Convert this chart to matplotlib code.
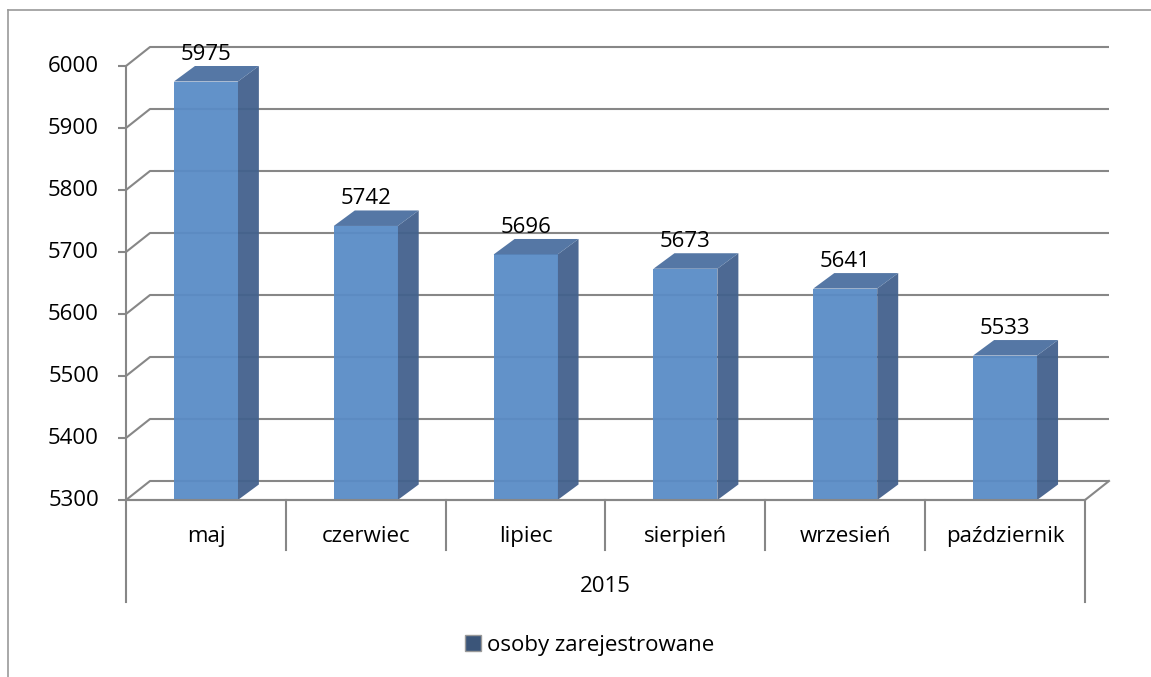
import matplotlib.pyplot as plt
from matplotlib.patches import Polygon, Patch
from matplotlib.lines import Line2D

months = ['maj', 'czerwiec', 'lipiec', 'sierpień', 'wrzesień', 'październik']
values = [5975, 5742, 5696, 5673, 5641, 5533]
year_label = '2015'
series_name = 'osoby zarejestrowane'
y_ticks = [5300, 5400, 5500, 5600, 5700, 5800, 5900, 6000]

plt.rcParams['font.family'] = ['Open Sans', 'DejaVu Sans']
FS = 16
GRID = '#878787'
FRONT = '#5a8cc6'
TOP = '#4c70a0'
SIDE = '#43618d'
LEGEND_C = '#3b5579'

W, H = 1151, 677
fig = plt.figure(figsize=(W / 100, H / 100), dpi=100)
ax = fig.add_axes([0, 0, 1, 1])
ax.axis('off')

# front plane of the plot area, in pixels (rows counted from the top)
X0_PX, X1_PX = 126, 1085
Y0_PX, Y1_PX = 500, 66
ymin, ymax = y_ticks[0], y_ticks[-1]
n = len(months)
px_x = (X1_PX - X0_PX) / n
px_y = (Y0_PX - Y1_PX) / (ymax - ymin)
ax.set_xlim(-X0_PX / px_x, (W - X0_PX) / px_x)
ax.set_ylim(ymin - (H - Y0_PX) / px_y, ymin + Y0_PX / px_y)

# depth offsets (walls and bars)
wdx, wdy = 24 / px_x, 19 / px_y
bdx, bdy = 21 / px_x, 15.5 / px_y
lw = 1.5


def px2pt(p):
    return p * 72 / 100


# back wall gridlines + left wall diagonals + ticks
for t in y_ticks:
    ax.plot([-8 / px_x, 0, wdx, n + wdx], [t, t, t + wdy, t + wdy],
            color=GRID, lw=lw, solid_capstyle='butt', zorder=1)
    ax.annotate(str(t), (0, t), xytext=(px2pt(-27), 0), textcoords='offset points',
                ha='right', va='center', fontsize=FS)

# floor
ax.plot([0, n, n + wdx], [ymin, ymin, ymin + wdy], color=GRID, lw=lw, zorder=1)

# bars
for i, v in enumerate(values):
    c = i + 0.5
    l, r = c - 0.2, c + 0.2
    front = [(l, ymin), (r, ymin), (r, v), (l, v)]
    side = [(r, ymin), (r + bdx, ymin + bdy), (r + bdx, v + bdy), (r, v)]
    top = [(l, v), (r, v), (r + bdx, v + bdy), (l + bdx, v + bdy)]
    ax.add_patch(Polygon(side, closed=True, facecolor=SIDE, edgecolor='none', alpha=0.95, zorder=2))
    ax.add_patch(Polygon(front, closed=True, facecolor=FRONT, edgecolor='none', alpha=0.95, zorder=2))
    ax.add_patch(Polygon(top, closed=True, facecolor=TOP, edgecolor='none', alpha=0.95, zorder=2))
    ax.annotate(str(v), (c, v + bdy), xytext=(0, 1), textcoords='offset points',
                ha='center', va='bottom', fontsize=FS, zorder=4)
    ax.annotate(months[i], (c, ymin), xytext=(0, px2pt(-42)), textcoords='offset points',
                ha='center', va='baseline', fontsize=FS)

# front value axis and category separators
ax.plot([0, 0], [ymin - 102 / px_y, ymax], color=GRID, lw=lw, zorder=3)
for i in range(1, n + 1):
    bottom = ymin - (102 if i == n else 50) / px_y
    ax.plot([i, i], [ymin, bottom], color=GRID, lw=lw, zorder=3)
ax.plot([0, n], [ymin, ymin], color=GRID, lw=lw, zorder=3)

ax.annotate(year_label, (n / 2, ymin), xytext=(0, px2pt(-92)), textcoords='offset points',
            ha='center', va='baseline', fontsize=FS)

# legend
leg = fig.legend(handles=[Patch(facecolor=LEGEND_C, edgecolor='#999999', label=series_name)],
                 loc='center', bbox_to_anchor=(590 / W, 1 - 645 / H), frameon=False,
                 fontsize=FS, handlelength=0.7, handleheight=0.7, handletextpad=0.3)

# chart border
fig.add_artist(Line2D([8 / W, 1], [1 - 10 / H, 1 - 10 / H], color='#9a9a9a', lw=1.2))
fig.add_artist(Line2D([8 / W, 8 / W], [0, 1 - 10 / H], color='#9a9a9a', lw=1.2))

fig.savefig('out.png', dpi=100)
